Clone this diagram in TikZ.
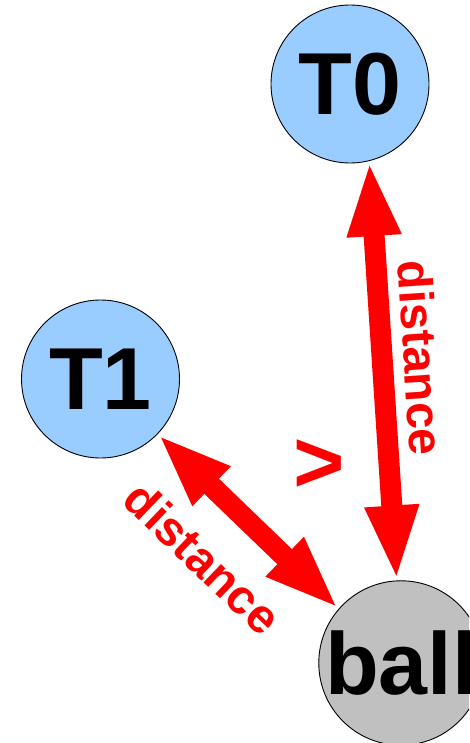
\documentclass[tikz,border=0pt]{standalone}
\usepackage{fontspec}
\setmainfont{Liberation Sans}
\usetikzlibrary{arrows.meta}
\definecolor{lblue}{HTML}{99CCFF}
\definecolor{lgray}{HTML}{C0C0C0}
\definecolor{pred}{HTML}{FF0000}
\begin{document}
\begin{tikzpicture}[x=1pt,y=-1pt,
  disc/.style={circle, draw=black, line width=0.9pt, minimum size=158pt, inner sep=0pt,
    font=\fontsize{88}{88}\selectfont\bfseries},
  redarrow/.style={draw=pred, line width=21pt,
    {Triangle[width=49pt,length=75pt]}-{Triangle[width=49pt,length=75pt]}},
  lbl/.style={text=pred, font=\fontsize{48}{48}\selectfont\bfseries, inner sep=0pt}]
\useasboundingbox (0,0) rectangle (469,743);
\begin{scope}
\clip (0,0) rectangle (469,743);
\node[disc, fill=lblue] (T0) at (350,84) {T0};
\node[disc, fill=lblue] (T1) at (100.5,379) {T1};
\node[disc, fill=lgray] (ball) at (401,663) {ball};
\draw[redarrow] (T0.-76) -- (ball.93);
\draw[redarrow] (T1.-44) -- (ball.139);
\node[lbl, rotate=-86.2] (d0) at (421,358) {distance};
\node[lbl, rotate=-43.9] (d1) at (203,558) {distance};
\node[lbl, font=\fontsize{88}{88}\selectfont\bfseries] (gt) at (319,466) {>};
\end{scope}
\end{tikzpicture}
\end{document}
